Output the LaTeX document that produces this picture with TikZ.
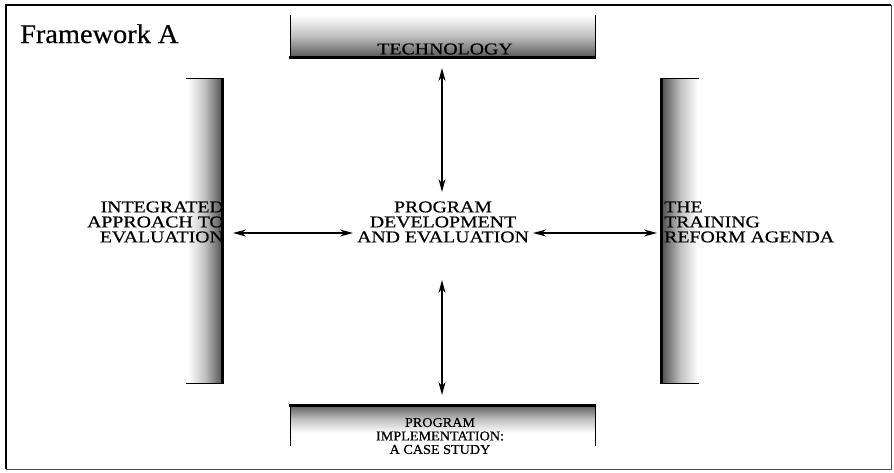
\documentclass[tikz,border=0pt]{standalone}
\usepackage{fontspec}
\setmainfont{Liberation Serif}
\newfontfamily\boxfont{Liberation Serif}[FakeStretch=1.2,FakeBold=0.6]
\newfontfamily\smallboxfont{Liberation Serif}[FakeStretch=1.05,FakeBold=0.6]
\newfontfamily\titlefont{Liberation Serif}[FakeStretch=1.05,FakeBold=0.5]
\usetikzlibrary{arrows.meta}
\begin{document}
\begin{tikzpicture}[x=1pt,y=-1pt,
  lbl/.style={inner sep=0pt, font=\boxfont\fontsize{16.5}{15}\selectfont},
  slbl/.style={inner sep=0pt, font=\smallboxfont\fontsize{13.5}{13.5}\selectfont},
  dbl/.style={line width=1.3pt, {Stealth[length=13pt,width=7pt]}-{Stealth[length=13pt,width=7pt]}},
  edge/.style={line width=0.8pt, black},
  heavy/.style={line width=3pt, black}]
\useasboundingbox (0,0) rectangle (894,472);
% frame
\draw[line width=0.8pt, black!70] (891,5) -- (891,469) -- (6,469);
\draw[line width=2pt] (6,469) -- (6,5) -- (891,5);
% title
\node[anchor=base west, inner sep=0pt, font=\titlefont\fontsize{27}{30}\selectfont] (title) at (20,43) {Framework A};
% top box
\shade[top color=white, bottom color=black!65, middle color=black!25] (290,15) rectangle (595,57);
\draw[edge] (290,15) -- (290,58);
\draw[edge] (595,15) -- (595,58);
\draw[heavy] (289,57) -- (596,57);
\node[lbl] (tech) at (445,49) {TECHNOLOGY};
% bottom box
\shade[top color=black!65, bottom color=white, middle color=black!25] (290,405) rectangle (595,433);
\draw[edge] (290,405) -- (290,446);
\draw[edge] (595,405) -- (595,446);
\draw[heavy] (289,405) -- (596,405);
\node[slbl, align=center] (impl) at (440,436) {PROGRAM\\IMPLEMENTATION:\\A CASE STUDY};
% left bar
\shade[left color=white, right color=black!68, middle color=black!25] (188,79) rectangle (222,383);
\draw[edge] (186,78.5) -- (223,78.5);
\draw[edge] (186,383) -- (223,383);
\draw[heavy] (222.5,78) -- (222.5,384);
\node[lbl, align=right, anchor=east] (integ) at (224,222) {INTEGRATED\\APPROACH TO\\EVALUATION};
% right bar
\shade[left color=black!68, right color=white, middle color=black!25] (662,79) rectangle (698,383);
\draw[edge] (661,78.5) -- (699,78.5);
\draw[edge] (661,383) -- (699,383);
\draw[heavy] (661.5,78) -- (661.5,384);
\node[lbl, align=left, anchor=west] (reform) at (664,222) {THE\\TRAINING\\REFORM AGENDA};
% centre
\node[lbl, align=center] (prog) at (443,222) {PROGRAM\\DEVELOPMENT\\AND EVALUATION};
% arrow end points
\coordinate (tA) at (442,68);  \coordinate (tB) at (442,192);
\coordinate (bA) at (442,280); \coordinate (bB) at (442,395);
\coordinate (lA) at (233,233); \coordinate (lB) at (353,233);
\coordinate (rA) at (533,233); \coordinate (rB) at (657,233);
\draw[dbl] (tA) -- (tB);
\draw[dbl] (bA) -- (bB);
\draw[dbl] (lA) -- (lB);
\draw[dbl] (rA) -- (rB);
\end{tikzpicture}
\end{document}
